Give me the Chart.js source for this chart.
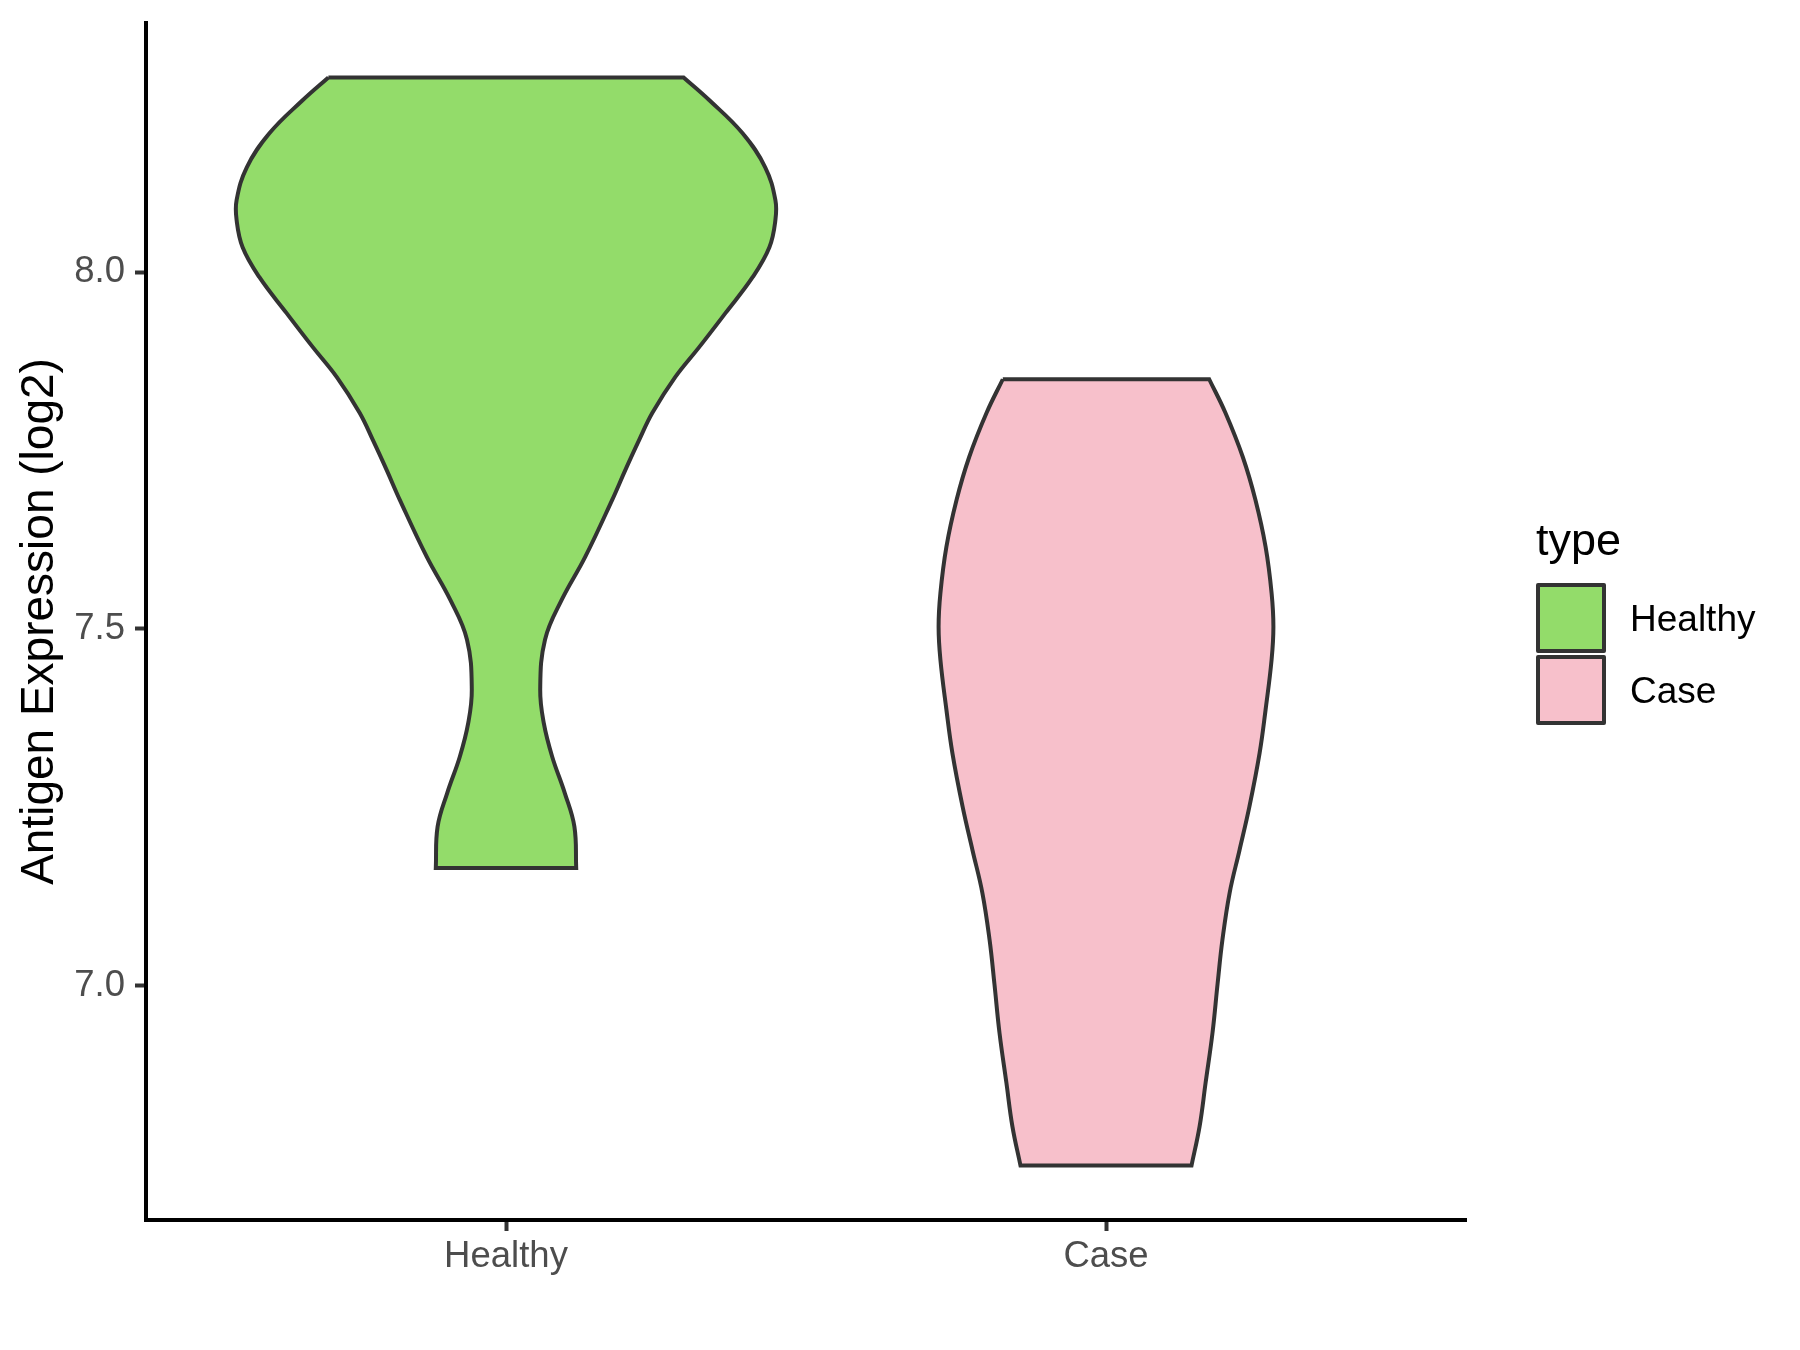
<!DOCTYPE html>
<html>
<head>
<meta charset="utf-8">
<script src="https://cdn.jsdelivr.net/npm/chart.js@4.4.1/dist/chart.umd.min.js"></script>
<style>
  body { margin: 0; background: #ffffff; }
  #wrap { width: 1800px; height: 1350px; }
</style>
</head>
<body>
<div id="wrap"><canvas id="violinChart" width="1800" height="1350"></canvas></div>
<script>
const categories = ['Healthy', 'Case'];
const legendTitle = 'type';
const yTicks = [7.0, 7.5, 8.0];

// expression level (log2) along each violin, and half width of the violin there
const healthyY = [8.273, 8.241, 8.195, 8.147, 8.101, 8.073, 8.035, 7.993, 7.943, 7.895, 7.853, 7.803, 7.765, 7.723, 7.681, 7.601, 7.541, 7.485, 7.415, 7.368, 7.321, 7.270, 7.223, 7.165];
const healthyWidth = [0.296, 0.339, 0.394, 0.432, 0.449, 0.449, 0.439, 0.411, 0.366, 0.322, 0.282, 0.244, 0.222, 0.199, 0.177, 0.132, 0.093, 0.065, 0.057, 0.063, 0.077, 0.098, 0.114, 0.117];

const caseY = [7.850, 7.803, 7.741, 7.681, 7.615, 7.550, 7.503, 7.457, 7.387, 7.326, 7.251, 7.190, 7.130, 7.064, 7.003, 6.934, 6.864, 6.803, 6.748];
const caseWidth = [0.172, 0.199, 0.228, 0.249, 0.266, 0.276, 0.279, 0.276, 0.266, 0.256, 0.239, 0.2225, 0.206, 0.194, 0.186, 0.1775, 0.166, 0.156, 0.1425];

const fillColors = ['#93DC6A', '#F7C0CB'];

// closed outline of a violin; corners are repeated so the flat ends stay straight
function outline(center, ys, ws) {
    const left = ys.map((y, i) => ({x: center - ws[i], y: y}));
    const right = ys.map((y, i) => ({x: center + ws[i], y: y}));
    const n = ys.length - 1;
    const pts = left.slice();
    pts.push(left[n]);
    pts.push(right[n]);
    for (let i = n; i >= 0; i--) pts.push(right[i]);
    pts.push(right[0]);
    pts.push(left[0]);
    return pts;
}

const allY = healthyY.concat(caseY);
const yLo = Math.min(...allY), yHi = Math.max(...allY);
const yPad = 0.05 * (yHi - yLo);

const fontFamily = '"Liberation Sans", Arial, Helvetica, sans-serif';

const legendPlugin = {
    id: 'typeLegend',
    afterDraw(chart) {
        const ctx = chart.ctx;
        const x0 = chart.chartArea.right + 72;
        ctx.save();
        ctx.fillStyle = '#000000';
        ctx.textBaseline = 'alphabetic';
        ctx.textAlign = 'left';
        ctx.font = '45px ' + fontFamily;
        ctx.fillText(legendTitle, x0 - 2, 555);
        chart.data.datasets.forEach((ds, i) => {
            const top = 585 + i * 72;
            ctx.fillStyle = ds.backgroundColor;
            ctx.fillRect(x0, top, 66, 66);
            ctx.lineWidth = 4;
            ctx.strokeStyle = '#333333';
            ctx.lineJoin = 'round';
            ctx.strokeRect(x0, top, 66, 66);
            ctx.fillStyle = '#000000';
            ctx.font = '37px ' + fontFamily;
            ctx.fillText(ds.label, x0 + 92, top + 46);
        });
        ctx.restore();
    }
};

const data = {
    datasets: [
        {
            label: categories[0],
            data: outline(1, healthyY, healthyWidth),
            backgroundColor: fillColors[0],
            borderColor: '#333333',
            borderWidth: 4,
            fill: 'shape',
            showLine: true,
            tension: 0.4,
            pointRadius: 0
        },
        {
            label: categories[1],
            data: outline(2, caseY, caseWidth),
            backgroundColor: fillColors[1],
            borderColor: '#333333',
            borderWidth: 4,
            fill: 'shape',
            showLine: true,
            tension: 0.4,
            pointRadius: 0
        }
    ]
};

const config = {
    type: 'scatter',
    data: data,
    plugins: [legendPlugin],
    options: {
        responsive: false,
        animation: false,
        layout: {
            padding: {top: 23, right: 334, bottom: 0, left: 0}
        },
        plugins: {
            legend: {display: false},
            tooltip: {enabled: false}
        },
        scales: {
            x: {
                type: 'linear',
                min: 0.4,
                max: 2.6,
                afterBuildTicks: function(scale) {
                    scale.ticks = categories.map((_, i) => ({value: i + 1}));
                },
                afterFit: function(scale) {
                    scale.height = 130;
                    scale.paddingLeft = 0;
                    scale.paddingRight = 0;
                },
                ticks: {
                    callback: function(value) {
                        return categories[value - 1];
                    },
                    color: '#4D4D4D',
                    font: {family: fontFamily, size: 36.5},
                    padding: 4,
                    maxRotation: 0
                },
                grid: {
                    display: true,
                    drawOnChartArea: false,
                    drawTicks: true,
                    tickLength: 11,
                    tickWidth: 4,
                    tickColor: '#333333'
                },
                border: {display: true, color: '#000000', width: 4}
            },
            y: {
                type: 'linear',
                min: yLo - yPad,
                max: yHi + yPad,
                afterBuildTicks: function(scale) {
                    scale.ticks = yTicks.map(v => ({value: v}));
                },
                afterFit: function(scale) {
                    scale.width = 146;
                    scale.paddingTop = 0;
                    scale.paddingBottom = 0;
                },
                ticks: {
                    callback: function(value) {
                        return value.toFixed(1);
                    },
                    color: '#4D4D4D',
                    font: {family: fontFamily, size: 36.5},
                    padding: 10
                },
                grid: {
                    display: true,
                    drawOnChartArea: false,
                    drawTicks: true,
                    tickLength: 11,
                    tickWidth: 4,
                    tickColor: '#333333'
                },
                border: {display: true, color: '#000000', width: 4},
                title: {
                    display: true,
                    text: 'Antigen Expression (log2)',
                    color: '#000000',
                    font: {family: fontFamily, size: 46},
                    padding: {top: 13, bottom: 0}
                }
            }
        }
    }
};

const violinChart = new Chart(document.getElementById('violinChart').getContext('2d'), config);
</script>
</body>
</html>
